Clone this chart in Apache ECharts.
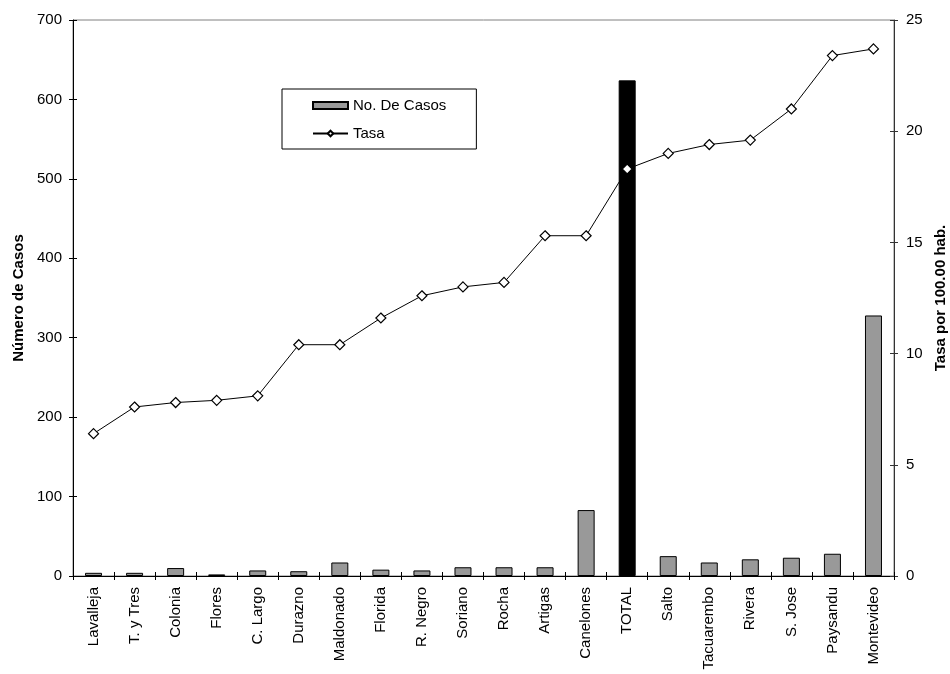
<!DOCTYPE html>
<html>
<head>
<meta charset="utf-8">
<script src="https://cdn.jsdelivr.net/npm/echarts@6/dist/echarts.min.js"></script>
<style>html,body{margin:0;padding:0;background:#fff;overflow:hidden;}#c{width:950px;height:674px;}</style>
</head>
<body>
<div id="c"></div>
<script>
const categories = ['Lavalleja','T. y Tres','Colonia','Flores','C. Largo','Durazno','Maldonado','Florida','R. Negro','Soriano','Rocha','Artigas','Canelones','TOTAL','Salto','Tacuarembo','Rivera','S. Jose','Paysandu','Montevideo'];
const casos = [4,4,10,2,7,6,17,8,7,11,11,11,83,624,25,17,21,23,28,328];
const tasa = [6.4,7.6,7.8,7.9,8.1,10.4,10.4,11.6,12.6,13.0,13.2,15.3,15.3,18.3,19.0,19.4,19.6,21.0,23.4,23.7];
const leftTicks = {min:0, max:700, interval:100};
const rightTicks = {min:0, max:25, interval:5};
const totalName = 'TOTAL';

const font = "'Liberation Sans', Arial, sans-serif";
const hiddenLabel = {show: false};
const chart = echarts.init(document.getElementById('c'));
chart.setOption({
  animation: false,
  textStyle: {fontFamily: font},
  grid: {left: 73, right: 56, top: 20, bottom: 98, containLabel: false, outerBoundsMode: 'none',
         show: true, borderColor: '#808080', borderWidth: 1, backgroundColor: '#fff'},
  legend: {
    left: 282, top: 89, orient: 'vertical',
    borderColor: '#000', borderWidth: 1,
    padding: [9, 30, 8, 30], itemGap: 13,
    itemWidth: 35, itemHeight: 7,
    textStyle: {fontSize: 15, color: '#000', fontFamily: font},
    data: [{name: 'No. De Casos', icon: 'rect'}, {name: 'Tasa'}]
  },
  xAxis: [
    {
      type: 'category', data: categories, boundaryGap: true,
      axisLine: {lineStyle: {color: '#000', width: 1}},
      axisTick: {show: true, interval: 0, length: 4, lineStyle: {color: '#000'}},
      axisLabel: {interval: 0, rotate: 90, fontSize: 15, color: '#000', margin: 11, fontFamily: font}
    },
    {
      type: 'category', data: categories, boundaryGap: true, position: 'bottom', offset: 0,
      axisLine: {show: false},
      axisTick: {show: true, inside: true, interval: 0, length: 4, lineStyle: {color: '#000'}},
      axisLabel: hiddenLabel, splitLine: {show: false}
    }
  ],
  yAxis: [
    {
      type: 'value', position: 'left', min: leftTicks.min, max: leftTicks.max, interval: leftTicks.interval,
      name: 'Número de Casos', nameLocation: 'middle', nameRotate: 90, nameGap: 45,
      nameTextStyle: {fontSize: 15, fontWeight: 'bold', color: '#000', fontFamily: font},
      axisLine: {show: true, lineStyle: {color: '#000'}},
      axisTick: {show: true, length: 4, lineStyle: {color: '#000'}},
      axisLabel: {fontSize: 15, color: '#000', margin: 11, fontFamily: font},
      splitLine: {show: false}
    },
    {
      type: 'value', position: 'right', min: rightTicks.min, max: rightTicks.max, interval: rightTicks.interval,
      name: 'Tasa por 100.00 hab.', nameLocation: 'middle', nameRotate: 90, nameGap: 37,
      nameTextStyle: {fontSize: 15, fontWeight: 'bold', color: '#000', fontFamily: font},
      axisLine: {show: true, lineStyle: {color: '#333'}},
      axisTick: {show: true, length: 4, lineStyle: {color: '#333'}},
      axisLabel: {fontSize: 15, color: '#000', margin: 12, fontFamily: font},
      splitLine: {show: false}
    },
    {
      type: 'value', position: 'left', offset: 0, min: leftTicks.min, max: leftTicks.max, interval: leftTicks.interval,
      axisLine: {show: false},
      axisTick: {show: true, inside: true, length: 4, lineStyle: {color: '#000'}},
      axisLabel: hiddenLabel, splitLine: {show: false}
    },
    {
      type: 'value', position: 'right', offset: 0, min: rightTicks.min, max: rightTicks.max, interval: rightTicks.interval,
      axisLine: {show: false},
      axisTick: {show: true, inside: true, length: 4, lineStyle: {color: '#333'}},
      axisLabel: hiddenLabel, splitLine: {show: false}
    }
  ],
  series: [
    {
      name: 'No. De Casos', type: 'bar', xAxisIndex: 0, yAxisIndex: 0, barWidth: 17, z: 2,
      itemStyle: {color: '#999999', borderColor: '#000', borderWidth: 1},
      data: casos.map((v, i) => categories[i] === totalName
        ? {value: v, itemStyle: {color: '#000', borderColor: '#000'}}
        : v)
    },
    {
      name: 'Tasa', type: 'line', xAxisIndex: 0, yAxisIndex: 1, z: 3,
      symbol: 'diamond', symbolSize: 10, showAllSymbol: true,
      lineStyle: {color: '#000', width: 1},
      itemStyle: {color: '#fff', borderColor: '#000', borderWidth: 1.2},
      data: tasa
    }
  ]
});
</script>
</body>
</html>
